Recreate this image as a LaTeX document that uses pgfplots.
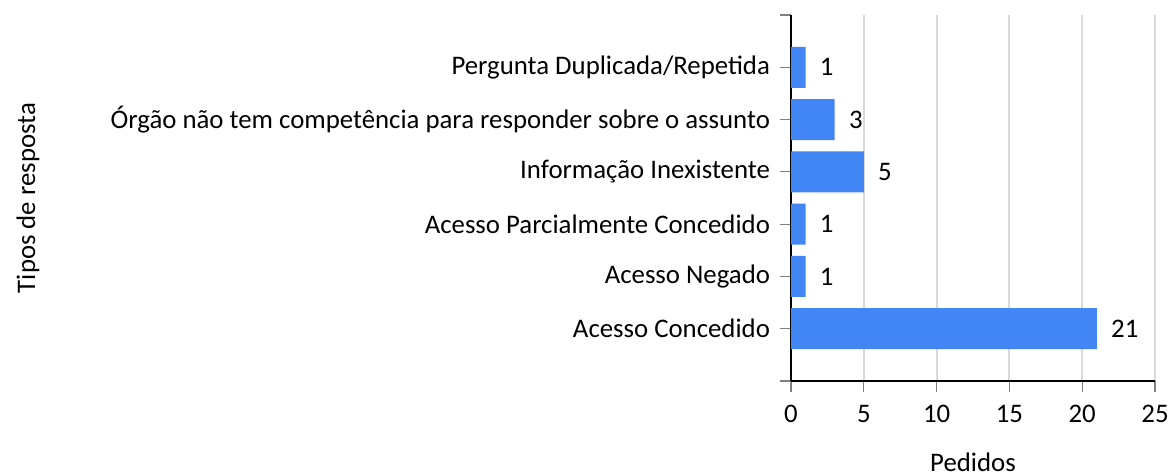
\documentclass[border=0pt]{standalone}
\usepackage{fontspec}
\setmainfont{Carlito}
\usepackage{pgfplots}
\pgfplotsset{compat=1.18}
\definecolor{barblue}{HTML}{4285F4}
\definecolor{gridgray}{HTML}{D9D9D9}
\begin{document}
\begin{tikzpicture}[font=\fontsize{13.4}{16}\selectfont]
\useasboundingbox (0,0) rectangle (585pt,237.5pt);
\begin{axis}[
  at={(395.5pt,47pt)}, anchor=south west,
  scale only axis, width=182pt, height=183pt,
  xbar, bar width=20.5pt, bar shift=0pt,
  xmin=0, xmax=25, ymin=-1, ymax=6,
  axis lines*=left,
  axis line style={black, line width=1.1pt},
  xtick={0,5,...,25},
  ytick={-1,0,1,2,3,4,5,6},
  yticklabels={,Acesso Concedido,Acesso Negado,Acesso Parcialmente Concedido,Informação Inexistente,Órgão não tem competência para responder sobre o assunto,Pergunta Duplicada/Repetida,},
  tick align=outside,
  major tick length=5.5pt,
  tick style={gray, line width=0.6pt},
  xmajorgrids, grid style={gridgray, line width=1pt},
  /pgf/number format/assume math mode=true,
  xticklabel style={anchor=center, yshift=-11pt},
  yticklabel style={anchor=east, xshift=-1.5pt},
  xlabel={Pedidos},
  ylabel={Tipos de resposta},
  xlabel style={at={(axis description cs:0.5,0)}, anchor=center, yshift=-40.5pt},
  ylabel style={at={(axis description cs:-2.096,0.5)}, anchor=center},
  nodes near coords,
  nodes near coords style={anchor=west, inner sep=0pt, xshift=7pt, black},
]
\addplot[fill=barblue, draw=none] coordinates {
  (21,0) (1,1) (1,2) (5,3) (3,4) (1,5)
};
\end{axis}
\end{tikzpicture}
\end{document}
